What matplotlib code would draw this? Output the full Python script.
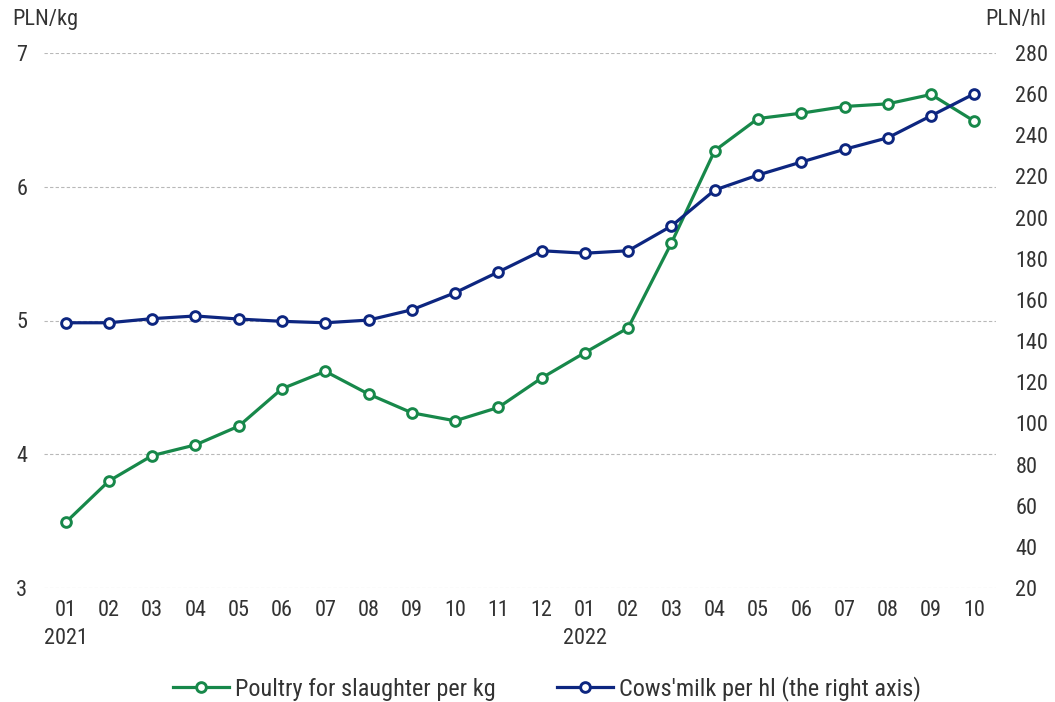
import matplotlib
matplotlib.use("Agg")
import matplotlib.pyplot as plt
from matplotlib import font_manager as fm
import matplotlib.transforms as mtransforms

names = {f.name for f in fm.fontManager.ttflist}
fam = [f for f in ["Roboto Condensed", "Liberation Sans Narrow", "Open Sans", "DejaVu Sans"] if f in names]
plt.rcParams['font.family'] = fam

months = ["01", "02", "03", "04", "05", "06", "07", "08", "09", "10", "11", "12",
          "01", "02", "03", "04", "05", "06", "07", "08", "09", "10"]
years = {0: "2021", 12: "2022"}
poultry = [3.49, 3.80, 3.99, 4.07, 4.21, 4.49, 4.62, 4.45, 4.31, 4.25, 4.35, 4.57,
           4.76, 4.945, 5.58, 6.27, 6.51, 6.55, 6.60, 6.62, 6.69, 6.49]
milk = [148.9, 148.9, 150.9, 152.2, 150.7, 149.6, 148.9, 150.2, 155.2, 163.5, 173.6, 183.9,
        182.7, 183.9, 195.9, 213.4, 220.7, 227.0, 233.2, 238.8, 249.5, 260.2]
left_ticks = [3, 4, 5, 6, 7]
right_ticks = list(range(20, 281, 20))

green = "#17884a"
navy = "#0d2680"
txt = "#333333"
fs = 16

fig = plt.figure(figsize=(10.55, 7.02), dpi=100)
ax = fig.add_axes([44/1055, 1-588/702, (996-44)/1055, (588-53)/702])
ax2 = ax.twinx()

x = list(range(len(months)))
l1, = ax.plot(x, poultry, color=green, lw=2.3, marker="o", ms=7, mfc="white",
              mec=green, mew=2.1, label="Poultry for slaughter per kg", zorder=3)
l2, = ax2.plot(x, milk, color=navy, lw=2.3, marker="o", ms=7, mfc="white",
               mec=navy, mew=2.1, label="Cows'milk per hl (the right axis)", zorder=3)

ax.set_xlim(-0.5, len(months) - 0.5)
ax.set_ylim(3, 7)
ax2.set_ylim(20, 280)
ax.set_yticks(left_ticks)
ax2.set_yticks(right_ticks)
ax.set_xticks(x)
ax.set_xticklabels(months)
ax.yaxis.grid(True, color="#b8b8b8", ls=(0, (3, 2)), lw=0.8)
ax.set_axisbelow(True)
for a in (ax, ax2):
    for s in a.spines.values():
        s.set_visible(False)
    a.tick_params(length=0, labelsize=fs, colors=txt)
ax.tick_params(axis="y", pad=12)
ax2.tick_params(axis="y", pad=14)
ax.tick_params(axis="x", pad=9)
for lab in ax2.get_yticklabels():
    lab.set_horizontalalignment("left")

trans = mtransforms.blended_transform_factory(ax.transData, fig.transFigure)
for i, y in years.items():
    ax.text(i, 1-638/702, y, transform=trans, ha="center", va="center", fontsize=fs, color=txt)

fig.text(12/1055, 1-20/702, "PLN/kg", ha="left", va="center", fontsize=fs, color=txt)
fig.text(1046/1055, 1-20/702, "PLN/hl", ha="right", va="center", fontsize=fs, color=txt)

fig.legend(handles=[l1, l2], loc="center", bbox_to_anchor=(547/1055, 1-689/702), ncol=2,
           frameon=False, fontsize=17.5, handlelength=2.3, columnspacing=2.5, handletextpad=0.25,
           labelcolor=txt)

fig.savefig("out.png", dpi=100)
